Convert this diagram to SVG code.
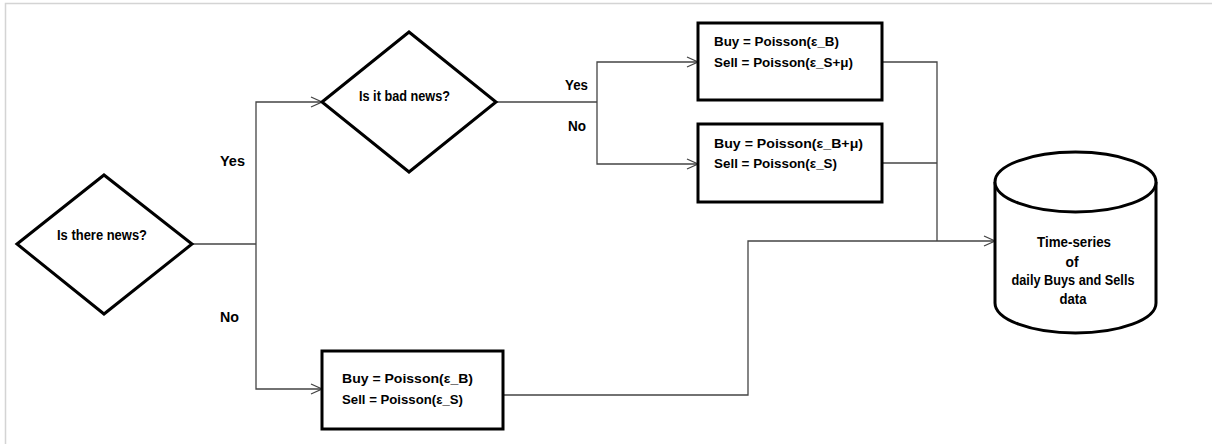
<svg xmlns="http://www.w3.org/2000/svg" width="1212" height="444" viewBox="0 0 1212 444">
<style>
.shape{fill:#fff;stroke:#000;stroke-width:3}
.conn{fill:none;stroke:#444;stroke-width:1.3}
.t{font-family:"Liberation Sans",Arial,sans-serif;font-weight:bold;font-size:13px;fill:#000}
.big{font-size:15px}
.c{text-anchor:middle}
</style>
<defs>
<marker id="arr" markerWidth="14" markerHeight="12" refX="12" refY="6" orient="auto" markerUnits="userSpaceOnUse">
<path d="M1,1 L12,6 L1,11" fill="none" stroke="#444" stroke-width="1.3"/>
</marker>
</defs>
<rect width="1212" height="444" fill="#fff"/>
<path d="M5.5,444 V3.5 H1212" fill="none" stroke="#d4d4d4" stroke-width="1.5"/>
<g id="connectors">
<path class="conn" d="M192,244 H256"/>
<path class="conn" d="M256,244 V102 H322" marker-end="url(#arr)"/>
<path class="conn" d="M256,244 V389 H322" marker-end="url(#arr)"/>
<path class="conn" d="M496,102 H597"/>
<path class="conn" d="M597,102 V62 H698" marker-end="url(#arr)"/>
<path class="conn" d="M597,102 V164 H698" marker-end="url(#arr)"/>
<path class="conn" d="M882,62 H937 V241"/>
<path class="conn" d="M882,163 H937"/>
<path class="conn" d="M503,395 H748 V241 H995" marker-end="url(#arr)"/>
<text class="t big" x="220" y="166" textLength="25" lengthAdjust="spacingAndGlyphs">Yes</text>
<text class="t big" x="220" y="322" textLength="19" lengthAdjust="spacingAndGlyphs">No</text>
<text class="t big" x="565" y="90" textLength="23" lengthAdjust="spacingAndGlyphs">Yes</text>
<text class="t big" x="568" y="131" textLength="18" lengthAdjust="spacingAndGlyphs">No</text>
</g>
<g id="news">
<polygon class="shape" points="17,244 104,175 192,244 104,314"/>
<text class="t big" x="57" y="240" textLength="90" lengthAdjust="spacingAndGlyphs">Is there news?</text>
</g>
<g id="badnews">
<polygon class="shape" points="322,102 409,32 496,102 409,172"/>
<text class="t big" x="359" y="101" textLength="91" lengthAdjust="spacingAndGlyphs">Is it bad news?</text>
</g>
<g id="bad">
<rect class="shape" x="698" y="23" width="184" height="77"/>
<text class="t" x="714" y="46" textLength="125" lengthAdjust="spacingAndGlyphs">Buy = Poisson(ε_B)</text>
<text class="t" x="714" y="67" textLength="139" lengthAdjust="spacingAndGlyphs">Sell = Poisson(ε_S+μ)</text>
</g>
<g id="good">
<rect class="shape" x="698" y="124" width="184" height="78"/>
<text class="t" x="714" y="148" textLength="149" lengthAdjust="spacingAndGlyphs">Buy = Poisson(ε_B+μ)</text>
<text class="t" x="714" y="168" textLength="123" lengthAdjust="spacingAndGlyphs">Sell = Poisson(ε_S)</text>
</g>
<g id="nonews">
<rect class="shape" x="322" y="351" width="181" height="78"/>
<text class="t" x="342" y="383" textLength="131" lengthAdjust="spacingAndGlyphs">Buy = Poisson(ε_B)</text>
<text class="t" x="342" y="404" textLength="121" lengthAdjust="spacingAndGlyphs">Sell = Poisson(ε_S)</text>
</g>
<g id="data">
<path class="shape" d="M995,182 V303 A80.5,30 0 0 0 1156,303 V182 A80.5,30 0 0 0 995,182 Z"/>
<path class="shape" d="M995,182 A80.5,30 0 0 0 1156,182" fill="none"/>
<text class="t big c" x="1074" y="247" textLength="74" lengthAdjust="spacingAndGlyphs">Time-series</text>
<text class="t big c" x="1072" y="267" textLength="13" lengthAdjust="spacingAndGlyphs">of</text>
<text class="t big c" x="1073" y="285" textLength="123" lengthAdjust="spacingAndGlyphs">daily Buys and Sells</text>
<text class="t big c" x="1073" y="304" textLength="27" lengthAdjust="spacingAndGlyphs">data</text>
</g>
</svg>
